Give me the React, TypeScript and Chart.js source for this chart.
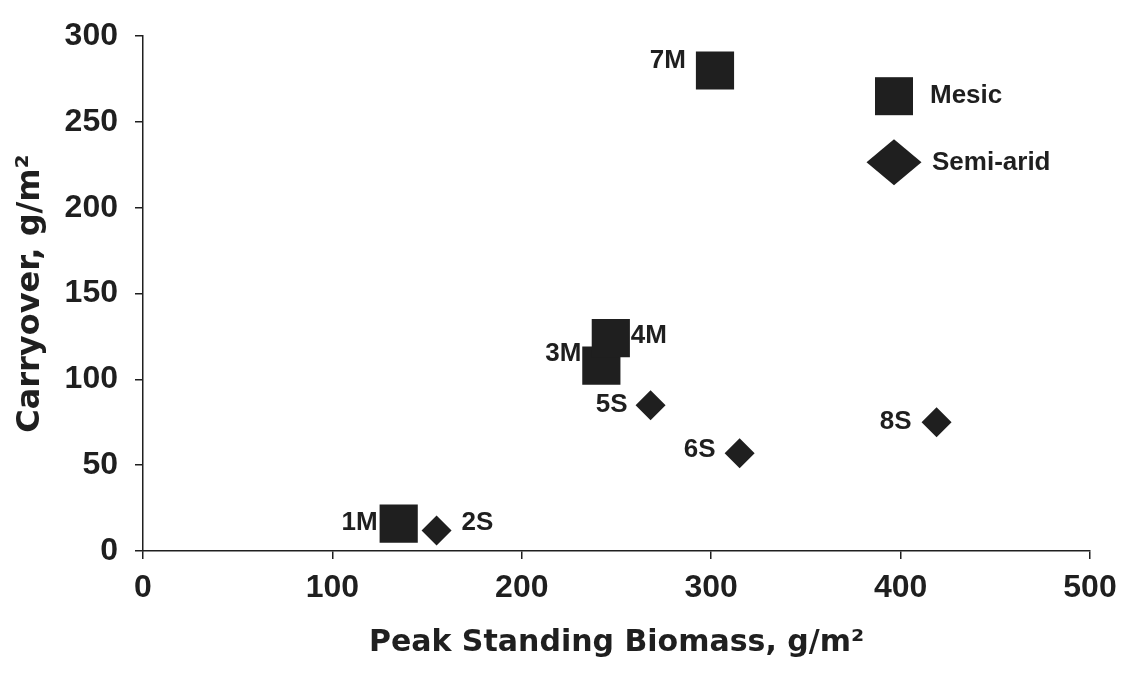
import React, { useEffect, useRef } from 'react';
import { Chart, registerables } from 'chart.js';

Chart.register(...registerables);

// Site observations: peak standing biomass (x) vs. carryover (y), both g/m²
const mesicNames = ['1M', '3M', '4M', '7M'];
const mesicBiomass = [135, 242, 247, 302];
const mesicCarryover = [16, 108, 124, 280];

const semiAridNames = ['2S', '5S', '6S', '8S'];
const semiAridBiomass = [155, 268, 315, 419];
const semiAridCarryover = [12, 85, 57, 75];

const seriesNames = ['Mesic', 'Semi-arid'];
const xTicks = [0, 100, 200, 300, 400, 500];
const yTicks = [0, 50, 100, 150, 200, 250, 300];

const INK = '#1f1f1f';
const LABEL_FONT = 'bold 26px "Liberation Sans", Arial, sans-serif';
const TICK_FAMILY = '"Liberation Sans", Arial, sans-serif';
const TITLE_FAMILY = '"DejaVu Sans", sans-serif';

// Where each site label sits relative to its marker
const labelPlacement: Record<string, { dx: number; dy: number; align: CanvasTextAlign }> = {
  '1M': { dx: -21, dy: -1, align: 'right' },
  '3M': { dx: -20, dy: -12, align: 'right' },
  '4M': { dx: 20, dy: -2, align: 'left' },
  '7M': { dx: -29, dy: -10, align: 'right' },
  '2S': { dx: 25, dy: -8, align: 'left' },
  '5S': { dx: -23, dy: 0, align: 'right' },
  '6S': { dx: -24, dy: -3, align: 'right' },
  '8S': { dx: -25, dy: 0, align: 'right' },
};

const siteLabels = {
  id: 'siteLabels',
  afterDatasetsDraw(chart: any) {
    const ctx: CanvasRenderingContext2D = chart.ctx;
    const names = [mesicNames, semiAridNames];
    ctx.save();
    ctx.font = LABEL_FONT;
    ctx.fillStyle = INK;
    ctx.textBaseline = 'middle';
    chart.data.datasets.forEach((_ds: any, i: number) => {
      chart.getDatasetMeta(i).data.forEach((pt: any, j: number) => {
        const name = names[i][j];
        const p = labelPlacement[name];
        ctx.textAlign = p.align;
        ctx.fillText(name, pt.x + p.dx, pt.y + p.dy);
      });
    });
    ctx.restore();
  },
};

// Two-entry key stacked in the upper right of the plot
const seriesKey = {
  id: 'seriesKey',
  afterDraw(chart: any) {
    const ctx: CanvasRenderingContext2D = chart.ctx;
    const { right, top } = chart.chartArea;
    const cx = right - 196;
    const y1 = top + 60;
    const y2 = top + 126;
    ctx.save();
    ctx.fillStyle = INK;
    // square
    ctx.fillRect(cx - 19, y1 - 19, 38, 38);
    // diamond
    ctx.beginPath();
    ctx.moveTo(cx - 27.5, y2);
    ctx.lineTo(cx, y2 - 23);
    ctx.lineTo(cx + 27.5, y2);
    ctx.lineTo(cx, y2 + 23);
    ctx.closePath();
    ctx.fill();
    ctx.font = LABEL_FONT;
    ctx.textAlign = 'left';
    ctx.textBaseline = 'middle';
    ctx.fillText(seriesNames[0], cx + 36, y1);
    ctx.fillText(seriesNames[1], cx + 38, y2 + 1);
    ctx.restore();
  },
};

export default function App() {
  const canvasRef = useRef<HTMLCanvasElement | null>(null);

  useEffect(() => {
    const canvas = canvasRef.current;
    if (!canvas) return;
    const chart = new Chart(canvas, {
      type: 'scatter',
      data: {
        datasets: [
          {
            label: seriesNames[0],
            data: mesicBiomass.map((x, i) => ({ x, y: mesicCarryover[i] })),
            pointStyle: 'rect',
            pointRadius: 27,
            pointBorderWidth: 0,
            backgroundColor: INK,
            borderColor: INK,
          },
          {
            label: seriesNames[1],
            data: semiAridBiomass.map((x, i) => ({ x, y: semiAridCarryover[i] })),
            pointStyle: 'rectRot',
            pointRadius: 15,
            pointBorderWidth: 0,
            backgroundColor: INK,
            borderColor: INK,
          },
        ],
      },
      options: {
        animation: false,
        responsive: true,
        maintainAspectRatio: false,
        events: [],
        layout: { padding: { top: 33, right: 39, left: 0, bottom: 0 } },
        plugins: {
          legend: { display: false },
          tooltip: { enabled: false },
        },
        scales: {
          x: {
            type: 'linear',
            min: 0,
            max: 500,
            afterBuildTicks: (s: any) => {
              s.ticks = xTicks.map((v) => ({ value: v }));
            },
            afterFit: (s: any) => {
              s.height = 122;
            },
            grid: { drawOnChartArea: false, drawTicks: true, tickLength: 8, color: INK, lineWidth: 1.5 },
            border: { display: true, color: INK, width: 1.5 },
            ticks: {
              color: INK,
              padding: 10,
              maxRotation: 0,
              font: { family: TICK_FAMILY, size: 32, weight: 'bold' },
            },
            title: {
              display: true,
              text: 'Peak Standing Biomass, g/m²',
              color: INK,
              font: { family: TITLE_FAMILY, size: 30, weight: 'bold' },
              padding: { top: 0, bottom: 12 },
            },
          },
          y: {
            type: 'linear',
            min: 0,
            max: 300,
            afterBuildTicks: (s: any) => {
              s.ticks = yTicks.map((v) => ({ value: v }));
            },
            afterFit: (s: any) => {
              s.width = 143;
            },
            grid: { drawOnChartArea: false, drawTicks: true, tickLength: 8, color: INK, lineWidth: 1.5 },
            border: { display: true, color: INK, width: 1.5 },
            ticks: {
              color: INK,
              padding: 17,
              font: { family: TICK_FAMILY, size: 32, weight: 'bold' },
            },
            title: {
              display: true,
              text: 'Carryover, g/m²',
              color: INK,
              font: { family: TITLE_FAMILY, size: 32, weight: 'bold' },
              padding: { top: 11, bottom: 0 },
            },
          },
        },
      },
      plugins: [siteLabels, seriesKey],
    } as any);
    return () => chart.destroy();
  }, []);

  return (
    <div
      style={{
        position: 'fixed',
        left: 0,
        top: 0,
        width: 1129,
        height: 673,
        background: '#ffffff',
      }}
    >
      <canvas ref={canvasRef} />
    </div>
  );
}
